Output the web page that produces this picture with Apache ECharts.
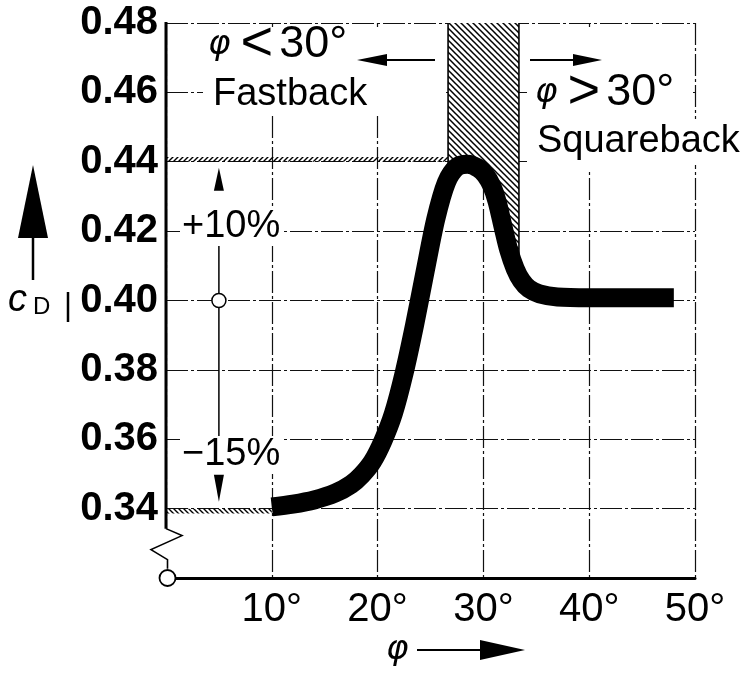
<!DOCTYPE html>
<html>
<head>
<meta charset="utf-8">
<script src="https://cdn.jsdelivr.net/npm/echarts@6/dist/echarts.min.js"></script>
<style>
html, body { margin: 0; padding: 0; background: #fff; }
#main { width: 753px; height: 673px; }
</style>
</head>
<body>
<div id="main"></div>
<script>
// c_D against rear slope angle phi
var phiDeg = [10, 12, 14, 16, 17.5, 18.5, 19.5, 20.5, 21.5, 22.5, 23.5, 24.5, 25.5, 26.5, 27.5, 28.5, 29.5, 30.2, 30.8, 31.3, 31.9, 32.4, 33.0, 33.6, 34.3, 35.3, 37, 40, 44, 48];
var cdVals = [0.3405, 0.3413, 0.3425, 0.3445, 0.3470, 0.3497, 0.3535, 0.3595, 0.3675, 0.3790, 0.3930, 0.4085, 0.4235, 0.4340, 0.4385, 0.4393, 0.4382, 0.4362, 0.4330, 0.4285, 0.4207, 0.4145, 0.4092, 0.4057, 0.4034, 0.4019, 0.4010, 0.4008, 0.4008, 0.4008];

// hatched transition zone (between the curve and the top)
var zoneDeg = [26.66, 26.66, 27.5, 28.5, 29.5, 30.2, 30.8, 31.3, 31.9, 32.4, 33.0, 33.36, 33.36];
var zoneCd = [0.48, 0.4350, 0.4385, 0.4393, 0.4382, 0.4362, 0.4330, 0.4285, 0.4207, 0.4145, 0.4092, 0.4070, 0.48];

// hatched limit lines (+10% at 0.44, -15% at 0.34)
var limitCd = [0.44, 0.34];
var limitEndDeg = [26.66, 10];
var markerDeg = 5;      // the small circle on 0.40
var baseCd = 0.40;

// axes
var yMin = 0.32, yMax = 0.48, yStep = 0.02;
var xMin = 0, xMax = 50, xStep = 10;

var FONT = '"Liberation Sans", Arial, sans-serif';

function hatch(size, dir, bg, lw) {
    var c = document.createElement('canvas');
    c.width = size; c.height = size;
    var g = c.getContext('2d');
    if (bg) { g.fillStyle = bg; g.fillRect(0, 0, size, size); }
    g.strokeStyle = '#000';
    g.lineWidth = lw;
    g.beginPath();
    if (dir === '\\') {
        g.moveTo(-1, -1); g.lineTo(size + 1, size + 1);
        g.moveTo(-1, size - 1); g.lineTo(1, size + 1);
        g.moveTo(size - 1, -1); g.lineTo(size + 1, 1);
    } else {
        g.moveTo(-1, size + 1); g.lineTo(size + 1, -1);
        g.moveTo(-1, 1); g.lineTo(1, -1);
        g.moveTo(size - 1, size + 1); g.lineTo(size + 1, size - 1);
    }
    g.stroke();
    return c;
}

var myChart = echarts.init(document.getElementById('main'));

var gridLine = { color: '#111', width: 1.2, type: [22, 3, 3, 3] };

var option = {
    animation: false,
    grid: { left: 166, right: 58, top: 23, bottom: 95 },
    xAxis: {
        type: 'value', min: xMin, max: xMax, interval: xStep,
        axisLine: { show: true, onZero: false, lineStyle: { color: '#000', width: 3 } },
        axisTick: { show: false },
        splitLine: { show: true, lineStyle: gridLine },
        axisLabel: {
            margin: 12, color: '#000', fontFamily: FONT, fontSize: 40,
            formatter: function (v) { return v === 0 ? '' : v + '°'; }
        }
    },
    yAxis: {
        type: 'value', min: yMin, max: yMax, interval: yStep,
        axisLine: { show: false },
        axisTick: { show: false },
        splitLine: { show: true, lineStyle: gridLine },
        axisLabel: {
            margin: 8, color: '#000', fontFamily: FONT, fontSize: 40, fontWeight: 'bold',
            formatter: function (v) { return v < 0.33 ? '' : v.toFixed(2); }
        }
    },
    series: [
        {
            type: 'line',
            data: zoneDeg.map(function (d, i) { return [d, zoneCd[i]]; }),
            symbol: 'none',
            lineStyle: { color: '#000', width: 1.6 },
            areaStyle: { origin: 'end', opacity: 1, color: { image: hatch(6, '\\', '#fff', 1.5), repeat: 'repeat' } },
            z: 3,
            markArea: {
                silent: true,
                label: { show: false },
                data: [
                    [{ coord: [xMin, limitCd[0]], itemStyle: { color: { image: hatch(5, '/', null, 1.4), repeat: 'repeat' }, opacity: 1 } },
                     { coord: [limitEndDeg[0], limitCd[0] + 0.0014] }],
                    [{ coord: [xMin, limitCd[1] - 0.0014], itemStyle: { color: { image: hatch(5, '\\', null, 1.4), repeat: 'repeat' }, opacity: 1 } },
                     { coord: [limitEndDeg[1], limitCd[1]] }]
                ]
            }
        },
        {
            type: 'line',
            data: phiDeg.map(function (d, i) { return [d, cdVals[i]]; }),
            symbol: 'none',
            smooth: 0.3,
            lineStyle: { color: '#000', width: 19, cap: 'butt', join: 'round' },
            z: 4
        }
    ]
};

myChart.setOption(option);

function px(x, y) { return myChart.convertToPixel({ gridIndex: 0 }, [x, y]); }

var pTop = px(xMin, yMax);
var pBot = px(xMin, yMin);
var p34 = px(xMin, 0.34);
var ax = pTop[0];
var breakY = p34[1] + 20;
var mk = px(markerDeg, baseCd);
var mk44 = px(markerDeg, limitCd[0]);
var mk34 = px(markerDeg, limitCd[1]);

function headUp(x, tipY, len, half) {
    return [[x, tipY], [x + half, tipY + len], [x - half, tipY + len]];
}
function headDown(x, tipY, len, half) {
    return [[x, tipY], [x + half, tipY - len], [x - half, tipY - len]];
}
function headLeft(tipX, y, len, half) {
    return [[tipX, y], [tipX + len, y - half], [tipX + len, y + half]];
}
function headRight(tipX, y, len, half) {
    return [[tipX, y], [tipX - len, y - half], [tipX - len, y + half]];
}

var black = { fill: '#000' };
var stroke = function (w) { return { stroke: '#000', lineWidth: w, fill: null }; };
var txt = function (x, y, text, size, extra) {
    var st = {
        text: text, fontFamily: FONT, fontSize: size, fill: '#000',
        align: 'left', verticalAlign: 'middle'
    };
    for (var k in extra) st[k] = extra[k];
    return { type: 'text', x: x, y: y, z: 60, style: st };
};
var headRich = {
    p: { fontFamily: '"DejaVu Sans"', fontStyle: 'italic', fontSize: 34, padding: [0, 10, 0, 0] },
    s: { fontFamily: FONT, fontSize: 56, padding: [0, 6, 0, 0] },
    n: { fontFamily: FONT, fontSize: 45 }
};

var graphics = [
    // blank areas behind the headings
    { type: 'rect', z: 50, shape: { x: 203, y: 27, width: 243, height: 86 }, style: { fill: '#fff' } },
    { type: 'rect', z: 50, shape: { x: 527, y: 27, width: 163, height: 143 }, style: { fill: '#fff' } },
    // left axis with break
    { type: 'rect', z: 50, shape: { x: ax - 3, y: breakY, width: 6, height: pBot[1] - breakY - 2 }, style: { fill: '#fff' } },
    { type: 'line', z: 55, shape: { x1: ax, y1: pTop[1] - 1, x2: ax, y2: breakY }, style: stroke(3) },
    { type: 'polyline', z: 55, shape: { points: [[ax, breakY], [ax + 16, breakY + 7], [ax - 15, breakY + 21], [ax + 1.5, breakY + 31], [ax + 1.5, breakY + 40]] }, style: stroke(1.6) },
    { type: 'circle', z: 56, shape: { cx: ax + 1.5, cy: pBot[1], r: 8 }, style: { fill: '#fff', stroke: '#000', lineWidth: 1.8 } },
    // +10% / -15% marker
    { type: 'line', z: 55, shape: { x1: mk[0], y1: mk[1], x2: mk[0], y2: 244 }, style: stroke(1.5) },
    { type: 'line', z: 55, shape: { x1: mk[0], y1: mk[1], x2: mk[0], y2: 438 }, style: stroke(1.5) },
    { type: 'polygon', z: 55, shape: { points: headUp(mk[0], mk44[1] + 6, 23, 5) }, style: black },
    { type: 'polygon', z: 55, shape: { points: headDown(mk[0], mk34[1] - 7, 27, 5) }, style: black },
    { type: 'circle', z: 56, shape: { cx: mk[0], cy: mk[1], r: 7 }, style: { fill: '#fff', stroke: '#000', lineWidth: 1.5 } },
    txt(180, 227, '+10%', 38, { backgroundColor: '#fff', padding: [0, 2] }),
    txt(180, 455, '−15%', 38, { backgroundColor: '#fff', padding: [0, 2] }),
    // headings
    txt(208, 45, '{p|φ}{s|<}{n|30°}', 45, { rich: headRich }),
    txt(213, 95, 'Fastback', 38),
    { type: 'line', z: 60, shape: { x1: 385, y1: 60, x2: 435, y2: 60 }, style: stroke(2) },
    { type: 'polygon', z: 60, shape: { points: headLeft(357, 60, 30, 6) }, style: black },
    { type: 'line', z: 60, shape: { x1: 530, y1: 60, x2: 575, y2: 60 }, style: stroke(2) },
    { type: 'polygon', z: 60, shape: { points: headRight(602, 60, 29, 6) }, style: black },
    txt(535, 93, '{p|φ}{s|>}{n|30°}', 45, { rich: headRich }),
    txt(535, 142, 'Squareback', 38, { backgroundColor: '#fff', padding: [2, 4, 6, 2] }),
    // y axis name: arrow, c_D and bar
    { type: 'polygon', z: 60, shape: { points: headUp(33, 165, 73, 15) }, style: black },
    { type: 'line', z: 60, shape: { x1: 33, y1: 236, x2: 33, y2: 280 }, style: stroke(2.5) },
    txt(8, 300, '{c|c}{d|D}', 38, { rich: {
        c: { fontFamily: FONT, fontStyle: 'italic', fontSize: 38 },
        d: { fontFamily: FONT, fontSize: 24, padding: [14, 0, 0, 6] }
    } }),
    { type: 'line', z: 60, shape: { x1: 68, y1: 292, x2: 68, y2: 322 }, style: stroke(2.5) },
    // x axis name
    txt(386, 650, 'φ', 34, { fontFamily: '"DejaVu Sans"', fontStyle: 'italic' }),
    { type: 'line', z: 60, shape: { x1: 417, y1: 650, x2: 482, y2: 650 }, style: stroke(2) },
    { type: 'polygon', z: 60, shape: { points: headRight(525, 650, 45, 10) }, style: black }
];

myChart.setOption({ graphic: graphics });
</script>
</body>
</html>
